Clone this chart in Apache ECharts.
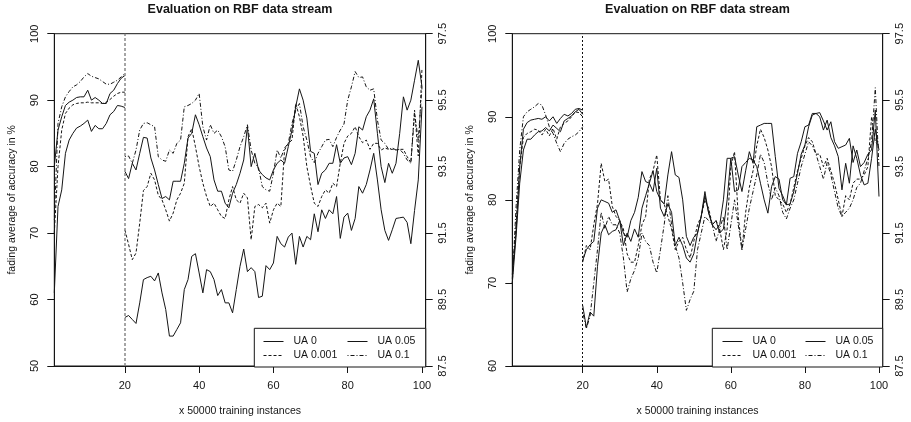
<!DOCTYPE html>
<html><head><meta charset="utf-8">
<script src="https://cdn.jsdelivr.net/npm/echarts@6/dist/echarts.min.js"></script>
<style>html,body{margin:0;padding:0;background:#fff}#c{width:911px;height:422px}</style>
</head><body><div id="c"></div>
<script>
// ---- Data (x = 1..20 for phase 1, x = 20..100 for phase 2) ----
const xTicks = [20, 40, 60, 80, 100];
const rightTicks = [87.5, 89.5, 91.5, 93.5, 95.5, 97.5];
const legendNames = ['UA 0', 'UA 0.001', 'UA 0.05', 'UA 0.1'];

// Left panel
const leftP1_UA0    = [61, 74, 76.5, 82, 84, 85, 85.8, 86.1, 86.5, 87, 85.3, 86.2, 85.7, 85.7, 86.5, 87.8, 88.3, 89.2, 89.1, 88.9];
const leftP1_UA0001 = [70, 80, 85.5, 88, 88.8, 89.3, 89.5, 89.6, 89.6, 89.7, 89.6, 89.6, 89.6, 89.5, 89.7, 90.1, 90.6, 91, 91.2, 91.2];
const leftP1_UA005  = [80, 85.5, 87.5, 89.2, 89.7, 90, 90.4, 90.5, 90.5, 91.5, 90, 90.4, 90, 89.5, 89.5, 91, 91.5, 92.5, 93.3, 93.7];
const leftP1_UA01   = [72, 86.5, 89, 90.5, 91.3, 92, 92.3, 92.8, 93.5, 94, 93.6, 93.4, 93.2, 92.8, 92.4, 92.4, 92.7, 93, 93.5, 94];

const leftP2_UA0 = [57.3, 57.6, 57, 56.4, 59.5, 63, 63.3, 63.5, 62.8, 64,
  61, 58.5, 54.5, 54.5, 55.5, 56.5, 61.5, 63, 66.5, 66.9,
  64, 61, 64.5, 64.2, 63, 60.6, 61.5, 59.5, 59.5, 58,
  61.5, 65, 67.6, 64.2, 64.8, 64.2, 60.3, 60.5, 65.1, 64.5,
  65.5, 69.5, 68.4, 67.9, 69.4, 70, 65.3, 69.5, 67.9, 69.5,
  69, 72.9, 70.2, 73.5, 72.2, 73.5, 72.9, 75.5, 69.2, 72.4,
  73, 70.4, 72.2, 77, 76, 77.3, 79.5, 82, 78, 73.5,
  70.4, 68.9, 70.5, 72.2, 72.3, 72.4, 71.6, 68.4, 73.4, 78, 89];
const leftP2_UA0001 = [70.5, 68.3, 66, 67, 71.5, 76.4, 77, 79, 78, 75.7,
  75, 73.5, 71.8, 73, 75, 76, 77.5, 84.5, 85.7, 83,
  80, 77.5, 75.5, 74, 74.5, 73.5, 72.5, 72.2, 75, 77,
  75, 74.5, 76, 75.3, 69, 74, 74.3, 73.8, 74.5, 71.5,
  73.5, 74.5, 74, 82.5, 83.5, 84, 89.5, 87.5, 84.6, 80,
  77.1, 74.5, 74, 75.5, 76.5, 76, 77.5, 77, 80.5, 83.5,
  84.6, 85, 86, 84.5, 83.6, 84, 82.6, 83.5, 83.5, 82.5,
  82.8, 82.6, 82.6, 82.5, 82.6, 82.6, 81.5, 80.6, 88.5, 81.6, 94.8];
const leftP2_UA005 = [79.3, 78.2, 80.5, 79.5, 82, 84.4, 84.3, 81.3, 79.5, 77.3,
  75.2, 75.5, 75, 77.8, 77.8, 77.8, 80.5, 84.3, 85, 87.8,
  86.3, 84.5, 82.8, 81.5, 78, 76.3, 76.3, 74.5, 73.8, 76,
  77.3, 79, 81, 86, 80, 82, 79.5, 78.8, 78.3, 78,
  79.5, 80.5, 81, 80.5, 83, 85.5, 89, 91.7, 90, 87.3,
  82.3, 82, 77.3, 79, 79.5, 80.5, 80.5, 83.3, 80.5, 81.3,
  81.5, 80.3, 82, 86, 85.5, 87.5, 88.5, 90.2, 85, 80,
  77.6, 80.5, 79, 80.5, 85, 90.5, 88.5, 90, 93, 96, 92];
const leftP2_UA01 = [81.5, 81.6, 80.5, 82.5, 85.5, 86.5, 86.6, 86.3, 86, 81.5,
  81, 80.8, 82.5, 82, 83.5, 84, 89, 89.2, 89.5, 90,
  91, 86, 84, 86.3, 85, 85.5, 84.5, 83, 79.5, 79.3,
  81, 83, 84.5, 86.3, 82.5, 80.5, 79.8, 77, 76.5, 76.3,
  79, 82.5, 81.3, 82.8, 83.5, 86.5, 88.5, 89.5, 86, 84,
  81.5, 80.6, 82, 83, 84, 84.1, 83, 84.4, 85.5, 86.4,
  90, 92, 94.3, 93.4, 93.5, 92, 91.5, 91.7, 87, 84,
  83.5, 82.6, 82.8, 82.5, 82.6, 82, 81, 80.5, 88, 84, 92];

// Right panel
const rightP1_UA0    = [70, 75.5, 82, 86, 87.3, 87.3, 87.8, 88.2, 88.3, 88.7, 88.3, 89, 88.6, 88.2, 89.5, 89.8, 90.1, 90.6, 90.9, 90.3];
const rightP1_UA0001 = [70.5, 77, 84, 87.5, 88, 88.2, 88.5, 88.4, 87.8, 88.5, 87.7, 88.6, 87.3, 88.8, 89.2, 89.5, 90, 90.6, 90.5, 90];
const rightP1_UA005  = [71, 76, 84, 88.5, 89.3, 89.6, 89.7, 89.8, 89.7, 90, 89.5, 90, 89.2, 89.8, 90.3, 90.1, 90.4, 90.9, 91, 90.8];
const rightP1_UA01   = [70, 79, 86, 90, 90.6, 90.9, 91.2, 91.6, 91.4, 90.2, 88.8, 88, 86.8, 85.8, 86.8, 87.3, 87.6, 87.8, 88.2, 88.8];

const rightP2_UA0 = [67.3, 64.6, 66.5, 66, 72, 76, 77, 75.8, 76.2, 76.4,
  77.5, 74.5, 76, 75, 76.5, 75.5, 79, 80.5, 82, 81,
  83.8, 79, 78, 79.5, 78.5, 74.5, 75.5, 74.5, 73, 72.5,
  73.5, 76, 78, 80.5, 78.5, 77, 77.5, 76, 76.5, 80,
  85, 81, 81.2, 84, 84.5, 85, 84.8, 84, 82, 80,
  78.4, 81.6, 82.8, 82.5, 80, 79.4, 79.5, 81, 83.2, 85.5,
  86.6, 88.8, 90.2, 90.4, 90, 88.4, 89.6, 87.5, 86.5, 85.2,
  81.2, 84.4, 82, 86.5, 85, 83, 81.8, 82, 85, 88.5, 86];
const rightP2_UA0001 = [72.5, 74.5, 74, 77, 79.5, 84.4, 82.2, 82.5, 79.2, 78,
  77.5, 76.5, 73.5, 72.5, 72.5, 74.5, 77, 78, 82.5, 83.5,
  85.4, 80, 79.5, 78, 76.5, 74, 75, 75.5, 74, 73,
  75, 77, 78, 80, 79, 77, 77.5, 76.5, 74, 76.5,
  84, 85.8, 78, 74, 78.5, 81.5, 83.5, 86.5, 88.5, 87.5,
  86, 84, 80.5, 80, 79.5, 78.5, 79.5, 81.5, 83.5, 85,
  86.5, 87.5, 87, 85.5, 85.5, 84, 85, 83.5, 82, 80,
  78, 80.5, 80, 82, 82.5, 82.5, 83, 84, 90, 87, 86.5];
const rightP2_UA005 = [72.7, 74, 74.6, 75, 79, 80, 79.8, 79.6, 78.5, 78.8,
  77.5, 76, 75.5, 77.5, 78.5, 80.3, 83.4, 82.2, 82, 83.5,
  81, 80, 79.5, 83, 85.8, 83, 82.7, 80, 75.6, 74.5,
  75.5, 76, 78, 81, 78.4, 77, 76.4, 77, 80, 85,
  85, 85.2, 83, 81, 83.5, 85.8, 84.4, 88.8, 89, 89.2,
  89.2, 89.2, 85.2, 81.4, 80.5, 79.4, 82.6, 82.8, 85.6, 87,
  88.8, 89, 90.4, 90.4, 90.5, 89.5, 88.4, 89.4, 87, 86.2,
  86.4, 86.6, 87.4, 84.5, 86, 84, 84.5, 85.5, 86, 90.8, 80.4];
const rightP2_UA01 = [66.5, 64.5, 66, 70, 74, 78.5, 76.5, 78, 77, 77,
  76, 73, 68.9, 70.5, 71.5, 73, 76, 75, 74.5, 72.5,
  71.2, 74, 77, 80.5, 77, 74.5, 73, 70, 66.7, 68,
  69, 74, 76, 78, 77.5, 77, 75, 76.5, 78, 74,
  77, 80, 77, 74, 76.5, 79, 81, 83, 85.5, 84.5,
  82, 80, 81.5, 80.5, 78.5, 77.7, 79, 80, 82, 84,
  85.5, 87, 86.5, 85.5, 84, 82.5, 84.5, 83, 81, 79,
  78, 78.5, 79, 80, 81.5, 82, 83.5, 85, 87, 93.5, 84];

// ---- Styling ----
const FONT = "'Liberation Sans', Arial, Helvetica, sans-serif";
const INK = '#151515';
const lineType = { 'UA 0': 'solid', 'UA 0.001': [3, 2], 'UA 0.05': 'solid', 'UA 0.1': [1, 2, 4, 2] };

function build(p1, p2) {
  const d = p1.map((v, i) => [i + 1, v]);
  d.push([20, '-']);
  p2.forEach((v, i) => d.push([20 + i, v]));
  return d;
}

const panels = [
  { grid: { left: 54.3, right: 485.3, top: 33.7, bottom: 55 }, yMin: 50, yMax: 100, title: 240,
    data: { 'UA 0': [leftP1_UA0, leftP2_UA0], 'UA 0.001': [leftP1_UA0001, leftP2_UA0001],
            'UA 0.05': [leftP1_UA005, leftP2_UA005], 'UA 0.1': [leftP1_UA01, leftP2_UA01] },
    vline: { color: '#888', type: [3, 2], width: 1.5 },
    legendBox: [254.3, 328.3, 171.4, 38.7], legendCols: [263, 347] },
  { grid: { left: 512.3, right: 28.3, top: 33.7, bottom: 55 }, yMin: 60, yMax: 100, title: 697.5,
    data: { 'UA 0': [rightP1_UA0, rightP2_UA0], 'UA 0.001': [rightP1_UA0001, rightP2_UA0001],
            'UA 0.05': [rightP1_UA005, rightP2_UA005], 'UA 0.1': [rightP1_UA01, rightP2_UA01] },
    vline: { color: '#111', type: [2, 2], width: 1 },
    legendBox: [712.3, 328.3, 170.4, 38.7], legendCols: [722, 805] }
];

const option = { animation: false, backgroundColor: '#fff', textStyle: { fontFamily: FONT },
  title: [], grid: [], xAxis: [], yAxis: [], series: [], legend: [], graphic: [] };

panels.forEach((p, k) => {
  option.title.push({ text: 'Evaluation on RBF data stream', left: p.title, top: 3.5, padding: 0, textAlign: 'center',
    textStyle: { fontFamily: FONT, fontSize: 12.5, fontWeight: 'bold', color: INK } });
  option.grid.push(Object.assign({ show: true, borderColor: INK, borderWidth: 1, backgroundColor: 'transparent' }, p.grid));
  option.xAxis.push({ type: 'value', gridIndex: k, min: 1, max: 101,
    axisLine: { show: true, lineStyle: { color: INK } },
    axisTick: { show: true, inside: false, length: 7, lineStyle: { color: INK }, customValues: xTicks },
    axisLabel: { color: INK, fontSize: 11, margin: 14, fontFamily: FONT, customValues: xTicks },
    splitLine: { show: false },
    name: 'x 50000 training instances', nameLocation: 'middle', nameGap: 40,
    nameTextStyle: { color: INK, fontSize: 10.5, fontFamily: FONT } });
  option.yAxis.push({ type: 'value', gridIndex: k, position: 'left', min: p.yMin, max: p.yMax, interval: 10,
    axisLine: { show: true, lineStyle: { color: INK } },
    axisTick: { show: true, inside: false, length: 7, lineStyle: { color: INK } },
    axisLabel: { color: INK, fontSize: 11, rotate: 90, margin: 14, fontFamily: FONT },
    splitLine: { show: false },
    name: 'fading average of accuracy in %', nameLocation: 'middle', nameGap: 37,
    nameTextStyle: { color: INK, fontSize: 10.5, fontFamily: FONT } });
  option.yAxis.push({ type: 'value', gridIndex: k, position: 'right', min: 87.5, max: 97.5,
    axisLine: { show: true, lineStyle: { color: INK } },
    axisTick: { show: true, inside: false, length: 7, lineStyle: { color: INK }, customValues: rightTicks },
    axisLabel: { color: INK, fontSize: 11, rotate: 90, margin: 12, fontFamily: FONT, customValues: rightTicks },
    splitLine: { show: false } });

  legendNames.forEach((name, j) => {
    const s = { type: 'line', name, xAxisIndex: k, yAxisIndex: k * 2, data: build(p.data[name][0], p.data[name][1]),
      symbol: 'none', showSymbol: false, connectNulls: false, z: 3,
      lineStyle: { color: INK, width: 1, type: lineType[name] }, itemStyle: { color: INK } };
    if (j === 0) {
      s.markLine = { silent: true, symbol: 'none', label: { show: false },
        lineStyle: { color: p.vline.color, type: p.vline.type, width: p.vline.width }, data: [{ xAxis: 20 }] };
    }
    option.series.push(s);
  });

  option.graphic.push({ type: 'rect', z: 3, silent: true,
    shape: { x: p.legendBox[0], y: p.legendBox[1], width: p.legendBox[2], height: p.legendBox[3] },
    style: { fill: '#fff', stroke: INK, lineWidth: 1 } });
  const pos = [['UA 0', 0, 0], ['UA 0.05', 1, 0], ['UA 0.001', 0, 1], ['UA 0.1', 1, 1]];
  pos.forEach(([name, c, r]) => {
    option.legend.push({ data: [name], left: p.legendCols[c], top: 336 + r * 14, padding: 0, z: 10,
      itemWidth: 20, itemHeight: 10, selectedMode: false,
      itemStyle: { opacity: 0 },
      lineStyle: { width: 1, color: INK, type: lineType[name] },
      textStyle: { color: INK, fontSize: 10.5, fontFamily: FONT, padding: [0, 0, 0, 5] } });
  });
});

const chart = echarts.init(document.getElementById('c'), null, { renderer: 'canvas' });
chart.setOption(option);
</script>
</body></html>
